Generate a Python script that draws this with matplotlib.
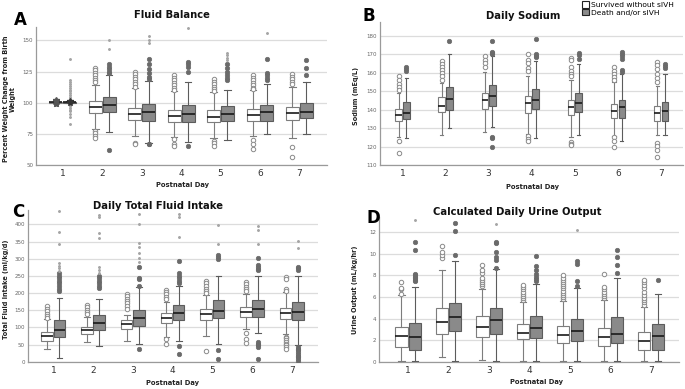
import matplotlib
matplotlib.use('Agg')
import matplotlib.pyplot as plt
from matplotlib.patches import Patch

W, H = 685, 389
days = [1, 2, 3, 4, 5, 6, 7]
day_labels = ['1', '2', '3', '4', '5', '6', '7']
legend_labels = ['Survived without sIVH', 'Death and/or sIVH']

# ---------------- Panel A: Fluid Balance ----------------
a_w_med = [100.4, 96.6, 90.8, 89.2, 88.7, 90.0, 91.6]
a_w_q1 = [99.9, 91.6, 86.3, 84.7, 84.5, 85.0, 86.3]
a_w_q3 = [100.9, 101.3, 96.0, 94.2, 94.0, 94.7, 96.8]
a_w_lo = [99.6, 79.0, 72.9, 72.5, 71.8, 72.9, 71.8]
a_w_hi = [101.2, 114.5, 111.8, 109.0, 108.7, 110.0, 113.0]
a_w_out = [[], [128, 126, 124, 122, 120, 118, 116.5, 77.5, 75.5, 73.5, 72],
           [125, 123, 121, 119, 117, 115, 113, 68, 66.5],
           [122, 120, 118, 116, 114, 112, 110.5, 70.5, 67, 65.5],
           [119, 117, 115, 113, 111, 109.5, 69.5, 67.5, 65.5],
           [122, 120, 118, 116, 114, 112, 110.8, 70.3, 66.6, 63.2],
           [123, 121, 119, 117, 115, 64.5, 56.6]]
a_w_ext = [[98.6, 99.3, 101.6, 102.3], [], [], [], [], [], []]

a_g_med = [100.5, 98.4, 92.9, 90.8, 90.8, 92.6, 92.9]
a_g_q1 = [100.1, 92.9, 85.5, 84.7, 85.0, 85.0, 87.4]
a_g_q3 = [100.9, 104.5, 98.7, 97.9, 97.1, 97.9, 100.0]
a_g_lo = [99.7, 76.3, 68.0, 68.5, 70.3, 75.0, 75.0]
a_g_hi = [101.3, 122.4, 117.5, 116.6, 110.5, 115.0, 117.0]
a_g_out = [[], [131, 129, 127, 125, 123.7, 61.8],
           [135, 131, 127, 124, 121, 119, 67, 66.5],
           [133, 131, 129, 125, 65.5],
           [131, 128, 125, 122, 120, 118],
           [135, 124, 122, 120, 118],
           [134, 127.6, 122.4]]
a_g_ext = [[135, 118, 116.5, 115, 113.5, 112, 110.5, 109, 107.5, 106, 104.5, 103,
            97.5, 96, 94.5, 93, 91, 88.5, 83],
           [143.4, 150], [148, 150, 153.5], [159.7], [140, 138, 136, 134], [156], []]
a_g_star = [[99.8, 101.2], [], [], [], [], [], []]

# ---------------- Panel B: Daily Sodium ----------------
b_w_med = [137.0, 142.0, 145.2, 143.4, 141.2, 139.2, 138.0]
b_w_q1 = [134.0, 138.5, 140.1, 138.3, 136.9, 135.4, 133.8]
b_w_q3 = [140.1, 147.0, 148.8, 147.4, 145.2, 143.0, 142.1]
b_w_lo = [125.0, 126.2, 128.0, 127.0, 125.3, 125.7, 126.0]
b_w_hi = [148.8, 154.2, 160.5, 158.0, 156.0, 154.8, 152.8]
b_w_out = [[158, 156, 154, 152, 150.5, 123.2, 116.7],
           [166, 164.5, 163, 161.5, 160, 158, 156],
           [169, 167, 165, 163],
           [170, 167, 165, 162.5, 161, 125.5, 124, 123],
           [168, 167, 163, 161, 159, 158, 122.6, 121.4, 120.8],
           [163, 161, 159, 157.5, 156, 125, 123.2, 120],
           [165.9, 164, 162, 159, 157, 155, 121.7, 120.3, 118, 114.1]]

b_g_med = [138.0, 145.9, 147.4, 145.2, 143.8, 141.6, 139.2]
b_g_q1 = [135.1, 139.8, 142.0, 140.1, 138.9, 135.6, 134.0]
b_g_q3 = [144.3, 152.0, 153.0, 151.0, 149.2, 145.2, 144.3]
b_g_lo = [124.4, 129.9, 130.8, 124.4, 126.2, 123.2, 126.2]
b_g_hi = [157.0, 170.0, 168.7, 166.5, 164.5, 159.3, 159.3]
b_g_out = [[163, 162, 161], [176.8], [177, 171, 170.5, 170, 125.3, 124.8, 120],
           [178, 170, 169, 168.5], [170.5, 169.6, 167.2],
           [171, 170, 169, 167.5, 161.4, 160.3], [164.5, 163.5, 162.5]]

# ---------------- Panel C: Daily Total Fluid Intake ----------------
c_w_med = [75, 91.4, 109, 126.5, 138, 146, 143]
c_w_q1 = [60.3, 79.8, 95.3, 112, 121.6, 131.3, 124.5]
c_w_q3 = [87.5, 102, 121.6, 141, 152.7, 158.6, 155.6]
c_w_lo = [36, 56.4, 60, 73, 75, 94.4, 79.8]
c_w_hi = [123.5, 131.3, 136, 175, 194.6, 197.5, 202]
c_w_out = [[163, 155, 148, 140, 133, 127],
           [165, 158, 152, 145, 138],
           [196, 190, 183, 176, 170, 162, 155],
           [210, 203, 196, 189, 182, 65, 50.6],
           [235, 228, 221, 213, 206, 200, 32],
           [233, 226, 219, 212, 205, 82.7, 66, 53.5],
           [248, 242, 212, 206, 73, 68, 63, 58, 53, 48, 43, 38]]

c_g_med = [91.4, 112, 126.5, 143, 149, 152.7, 144]
c_g_q1 = [73, 92.4, 104, 121.6, 126.5, 131.3, 121.6]
c_g_q3 = [121.6, 136, 149.8, 165, 180, 180, 173]
c_g_lo = [9.7, 46.7, 50.6, 60, 50.6, 84.6, 48.6]
c_g_hi = [186.8, 183.9, 219, 220, 251, 251, 251]
c_g_out = [[258, 250, 243, 236, 228, 220, 212, 205],
           [250, 243, 236, 228, 220, 214],
           [275, 245, 241, 220.5, 37],
           [294, 257, 250, 243, 236, 230, 46.7, 21.4],
           [310, 305, 298, 34, 7.8],
           [301.6, 283, 277, 271, 268, 57, 52, 48, 44, 7.8],
           [277, 273, 268, 43, 38, 33, 28, 23, 18, 13, 8, 3]]
c_g_ext = [[437.7, 376.5, 344, 287, 280, 273, 265],
           [428, 421, 374.5, 360, 277, 267.5, 257.8],
           [430, 402, 347, 333, 318, 303.5, 290],
           [430, 423, 362], [397, 342.4], [394, 384, 342.4], [352, 330.7]]

# ---------------- Panel D: Calculated Daily Urine Output ----------------
d_w_med = [2.34, 3.69, 3.26, 2.70, 2.46, 2.25, 1.94]
d_w_q1 = [1.32, 2.60, 2.30, 2.06, 1.78, 1.48, 1.10]
d_w_q3 = [3.23, 5.00, 4.25, 3.48, 3.32, 3.17, 2.80]
d_w_lo = [0.05, 0.45, 0.20, 0.05, 0.10, 0.05, 0.05]
d_w_hi = [6.2, 8.5, 6.7, 5.5, 5.6, 5.7, 5.1]
d_w_out = [[6.3, 6.7, 6.85, 7.4],
           [9.6, 9.9, 10.2, 10.7],
           [7.0, 7.2, 7.4, 7.6, 7.8, 8.2, 8.5, 9.0],
           [5.7, 5.9, 6.1, 6.3, 6.5, 6.7, 6.9, 7.1],
           [5.8, 6.0, 6.2, 6.4, 6.6, 6.8, 7.0, 7.2, 7.4, 7.6, 7.8, 8.0],
           [5.9, 6.1, 6.3, 6.5, 6.7, 6.9, 8.1],
           [5.3, 5.5, 5.7, 5.9, 6.2, 6.5, 6.8, 7.1, 7.4, 7.6]]

d_g_med = [2.25, 4.18, 3.85, 3.08, 2.86, 2.55, 2.40]
d_g_q1 = [1.10, 2.86, 2.60, 2.18, 1.94, 1.69, 1.10]
d_g_q3 = [3.63, 5.48, 4.95, 4.25, 3.94, 4.15, 3.48]
d_g_lo = [0.05, 0.05, 0.05, 0.05, 0.05, 0.05, 0.10]
d_g_hi = [6.95, 9.35, 8.6, 7.2, 6.8, 7.75, 6.3]
d_g_out = [[7.5, 7.6, 7.8, 7.9, 8.0, 8.1, 10.4, 11.1],
           [9.9, 12.1, 12.9],
           [8.7, 9.4, 9.7, 10.2, 11.0, 11.1],
           [7.5, 7.7, 7.9, 8.1, 8.5, 8.9, 9.8],
           [7.0, 7.5, 9.1, 9.3],
           [8.2, 9.0, 9.7, 10.4],
           [7.6]]
d_g_ext = [[13.1], [], [12.8], [], [12.2], [], []]

WHITE_EDGE = '#7d7d7d'
GRAY_FACE = '#8a8a8a'
GRAY_EDGE = '#5c5c5c'


def fig_rect(l, t, r, b):
    return [l / W, 1 - b / H, (r - l) / W, (b - t) / H]


def draw_group(ax, med, q1, q3, lo, hi, out, off, width, white):
    stats = []
    for i in range(len(days)):
        stats.append(dict(med=med[i], q1=q1[i], q3=q3[i], whislo=lo[i],
                          whishi=hi[i], fliers=out[i]))
    pos = [d + off for d in days]
    if white:
        face, edge = 'white', WHITE_EDGE
        flier = dict(marker='o', markerfacecolor='white', markeredgecolor='#8a8a8a',
                     markersize=3.2, markeredgewidth=0.7, linestyle='none')
    else:
        face, edge = GRAY_FACE, GRAY_EDGE
        flier = dict(marker='o', markerfacecolor='#6a6a6a', markeredgecolor='#6a6a6a',
                     markersize=3.2, markeredgewidth=0.5, linestyle='none')
    ax.bxp(stats, positions=pos, widths=width, capwidths=width * 0.5,
           patch_artist=True, showfliers=True, manage_ticks=False,
           boxprops=dict(facecolor=face, edgecolor=edge, linewidth=0.8),
           medianprops=dict(color='#1a1a1a', linewidth=1.2),
           whiskerprops=dict(color=edge, linewidth=0.8),
           capprops=dict(color=edge, linewidth=0.8),
           flierprops=flier, zorder=3)


def draw_ext(ax, ext, off, marker='.', ms=2.2, color='#a5a5a5'):
    for i, vals in enumerate(ext):
        if vals:
            ax.plot([days[i] + off] * len(vals), vals, linestyle='none', marker=marker,
                    markersize=ms, color=color, zorder=4)


def style_axes(ax, ylim, yticks, xlim):
    ax.set_xlim(*xlim)
    ax.set_ylim(*ylim)
    ax.set_yticks(yticks)
    ax.set_yticklabels([str(t) for t in yticks])
    ax.set_xticks(days)
    ax.set_xticklabels(day_labels)
    ax.tick_params(axis='y', labelsize=4, colors='#666666', length=0, pad=2)
    ax.tick_params(axis='x', labelsize=6.5, colors='#333333', length=0, pad=3)
    for s in ['top', 'right']:
        ax.spines[s].set_visible(False)
    for s in ['left', 'bottom']:
        ax.spines[s].set_color('#9a9a9a')
        ax.spines[s].set_linewidth(0.9)
    ax.yaxis.grid(True, color='#dcdcdc', linewidth=0.9, zorder=0)
    ax.set_axisbelow(True)


fig = plt.figure(figsize=(W / 100, H / 100), dpi=100)

# Panel A
axA = fig.add_axes(fig_rect(36, 26.7, 327, 165))
wA, oA = 0.33, 0.175
draw_group(axA, a_w_med, a_w_q1, a_w_q3, a_w_lo, a_w_hi, a_w_out, -oA, wA, True)
draw_group(axA, a_g_med, a_g_q1, a_g_q3, a_g_lo, a_g_hi, a_g_out, oA, wA, False)
draw_ext(axA, a_w_ext, -oA, marker='*', ms=4, color='#555555')
draw_ext(axA, a_g_ext, oA)
draw_ext(axA, a_g_star, oA, marker='*', ms=4, color='#333333')
style_axes(axA, (50, 161), [50, 75, 100, 125, 150], (0.32, 7.70))

# Panel B
axB = fig.add_axes(fig_rect(380, 21.7, 683, 165))
wB, oB = 0.15, 0.09
draw_group(axB, b_w_med, b_w_q1, b_w_q3, b_w_lo, b_w_hi, b_w_out, -oB, wB, True)
draw_group(axB, b_g_med, b_g_q1, b_g_q3, b_g_lo, b_g_hi, b_g_out, oB, wB, False)
style_axes(axB, (110, 187.5), [110, 120, 130, 140, 150, 160, 170, 180], (0.48, 7.51))

# Panel C
axC = fig.add_axes(fig_rect(27.7, 210, 318, 361.7))
wC, oC = 0.29, 0.155
draw_group(axC, c_w_med, c_w_q1, c_w_q3, c_w_lo, c_w_hi, c_w_out, -oC, wC, True)
draw_group(axC, c_g_med, c_g_q1, c_g_q3, c_g_lo, c_g_hi, c_g_out, oC, wC, False)
draw_ext(axC, c_g_ext, oC)
style_axes(axC, (0, 442), [0, 50, 100, 150, 200, 250, 300, 350, 400], (0.355, 7.66))

# Panel D
axD = fig.add_axes(fig_rect(379, 216.7, 679, 361.7))
wD, oD = 0.30, 0.165
draw_group(axD, d_w_med, d_w_q1, d_w_q3, d_w_lo, d_w_hi, d_w_out, -oD, wD, True)
draw_group(axD, d_g_med, d_g_q1, d_g_q3, d_g_lo, d_g_hi, d_g_out, oD, wD, False)
draw_ext(axD, d_g_ext, oD)
style_axes(axD, (0, 13.45), [0, 2, 4, 6, 8, 10, 12], (0.28, 7.69))


def ftext(x, y, s, **kw):
    fig.text(x / W, 1 - y / H, s, **kw)


title_kw = dict(fontsize=7.2, fontweight='bold', ha='center', va='center', color='#111111')
ftext(172, 15, 'Fluid Balance', **title_kw)
ftext(523, 16, 'Daily Sodium', **title_kw)
ftext(158, 206, 'Daily Total Fluid Intake', **title_kw)
ftext(517, 212, 'Calculated Daily Urine Output', **title_kw)

letter_kw = dict(fontsize=12, fontweight='bold', ha='center', va='center', color='#000000')
ftext(20, 20, 'A', **letter_kw)
ftext(369, 16, 'B', **letter_kw)
ftext(18, 212, 'C', **letter_kw)
ftext(373, 218, 'D', **letter_kw)

xl_kw = dict(fontsize=4.9, fontweight='bold', ha='center', va='center', color='#222222')
ftext(182, 185, 'Postnatal Day', **xl_kw)
ftext(532, 187, 'Postnatal Day', **xl_kw)
ftext(172, 383, 'Postnatal Day', **xl_kw)
ftext(537, 382, 'Postnatal Day', **xl_kw)

yl_kw = dict(fontsize=4.7, fontweight='bold', ha='center', va='center', rotation=90,
             color='#222222', multialignment='center', linespacing=1.1)
ftext(9.5, 99, 'Percent Weight Change from Birth\nWeight', **yl_kw)
ftext(356, 96, 'Sodium (mEq/L)', **yl_kw)
ftext(6, 289, 'Total Fluid Intake (ml/kg/d)', **yl_kw)
ftext(355, 290, 'Urine Output (mL/kg/hr)', **yl_kw)

handles = [Patch(facecolor='white', edgecolor='#222222', linewidth=0.8),
           Patch(facecolor=GRAY_FACE, edgecolor='#222222', linewidth=0.8)]
fig.legend(handles, legend_labels, loc='upper left', bbox_to_anchor=(582 / W, 1 - 1.5 / H),
           frameon=False, fontsize=5.4, handlelength=0.9, handleheight=0.9,
           handletextpad=0.25, labelspacing=0.12, borderpad=0, borderaxespad=0)

fig.savefig('out.png', dpi=100)
